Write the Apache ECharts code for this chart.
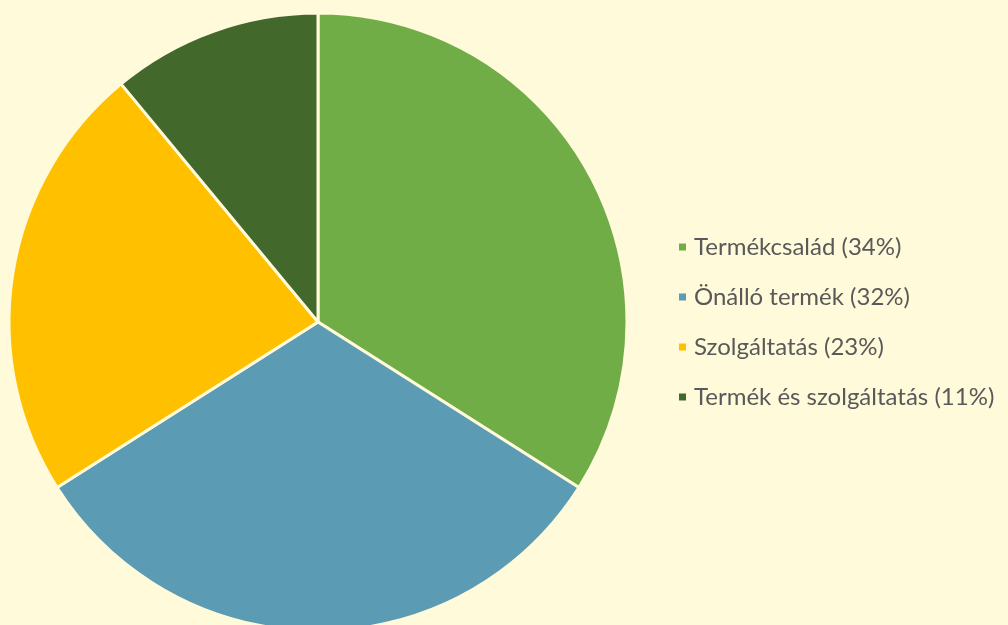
<!DOCTYPE html>
<html>
<head>
<meta charset="utf-8">
<script src="https://cdn.jsdelivr.net/npm/echarts@6/dist/echarts.min.js"></script>
<style>
  html, body { margin: 0; padding: 0; background: #fffad9; }
  #chart { width: 1008px; height: 625px; }
</style>
</head>
<body>
<div id="chart"></div>
<script>
var categories = ["Termékcsalád", "Önálló termék", "Szolgáltatás", "Termék és szolgáltatás"];
var shares = [34, 32, 23, 11];
var colors = ["#70ad47", "#5b9bb3", "#ffc000", "#43682b"];

var chart = echarts.init(document.getElementById("chart"));
var pieData = [];
for (let i = 0; i < categories.length; i++) {
  pieData.push({ name: categories[i], value: shares[i] });
}

chart.setOption({
  backgroundColor: "#fffad9",
  color: colors,
  legend: {
    orient: "vertical",
    left: 672,
    top: 230,
    itemWidth: 9,
    itemHeight: 9,
    itemGap: 26,
    icon: "rect",
    formatter: function (name) {
      var idx = categories.indexOf(name);
      return name + " (" + shares[idx] + "%)";
    },
    textStyle: {
      fontFamily: "Lato",
      fontSize: 24,
      lineHeight: 24,
      color: "#595959",
      padding: [0, 0, 0, 2]
    }
  },
  series: [
    {
      type: "pie",
      center: [318, 322],
      radius: 309,
      startAngle: 90,
      clockwise: true,
      label: { show: false },
      labelLine: { show: false },
      itemStyle: {
        borderColor: "#fffad9",
        borderWidth: 3
      },
      emphasis: { scale: false },
      data: pieData
    }
  ]
});
</script>
</body>
</html>
